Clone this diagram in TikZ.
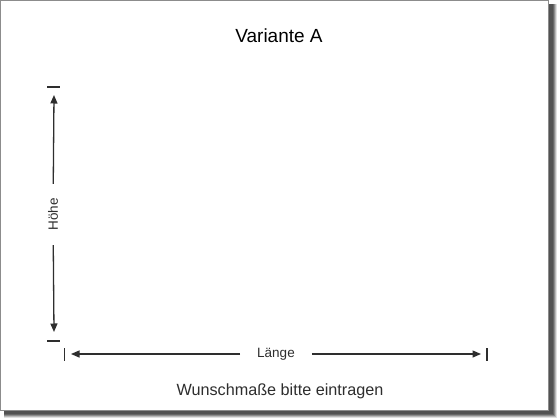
\documentclass[tikz,border=0pt]{standalone}
\usepackage{fontspec}
\setmainfont{Liberation Sans}
\usetikzlibrary{arrows.meta}
\definecolor{ink}{HTML}{2E2E2E}
\tikzset{
  dimline/.style={draw=ink, line width=1.3pt, -{Triangle[length=8.5pt,width=7pt]}},
  tick/.style={draw=ink, line width=1.3pt},
  dimlabel/.style={fill=white, text=ink, font=\fontsize{13.5}{15}\selectfont, inner ysep=2pt},
}
\begin{document}
\begin{tikzpicture}[x=1pt,y=-1pt]
\useasboundingbox (0,0) rectangle (560,420);
\fill[white] (0,0) rectangle (560,420);
% shadow
\fill[black!12] (4,4) rectangle (557,418);
\fill[black!28] (4,4) rectangle (556,417);
\fill[black!45] (4,4) rectangle (555,416);
\fill[black!60] (4,4) rectangle (554,415);
\fill[black!68] (4,4) rectangle (552.5,413.5);
% panel
\draw[fill=white, draw=black!45, line width=1pt] (0.5,0.5) rectangle (548.5,410.5);
% titles
\node[font=\fontsize{19}{22}\selectfont, anchor=base] (title) at (279,43) {Variante A};
\node[font=\fontsize{16.2}{19}\selectfont, text=ink, anchor=base] (note) at (280,395) {Wunschmaße bitte eintragen};
% height dimension
\coordinate (htop) at (54,95);
\coordinate (hbot) at (54,332);
\node[dimlabel, rotate=90, inner xsep=14.3pt] (h) at (53,214.5) {Höhe};
\draw[tick] (47,87) -- (60,87);
\draw[tick] (47,341) -- (60,341);
\draw[dimline] (h) -- (htop);
\draw[dimline] (h) -- (hbot);
% length dimension
\coordinate (lleft) at (71,354);
\coordinate (lright) at (481,354);
\node[dimlabel, inner xsep=17pt] (l) at (276,354) {Länge};
\draw[tick] (64.5,348) -- (64.5,361);
\draw[tick] (487,348) -- (487,361);
\draw[dimline] (l) -- (lleft);
\draw[dimline] (l) -- (lright);
\end{tikzpicture}
\end{document}
